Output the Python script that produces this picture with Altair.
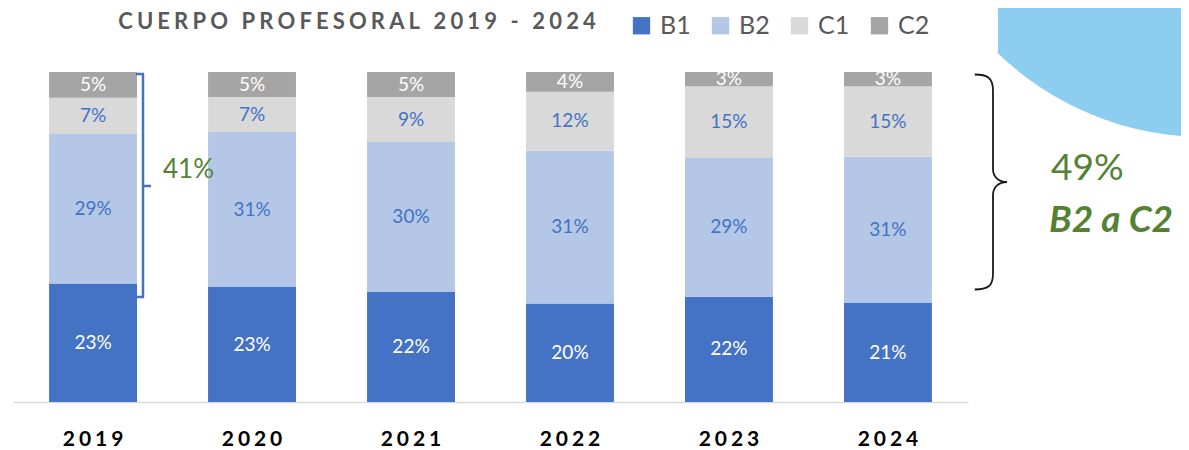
import altair as alt
import pandas as pd

years = ["2019", "2020", "2021", "2022", "2023", "2024"]
levels = ["B1", "B2", "C1", "C2"]
b1 = [23, 23, 22, 20, 22, 21]
b2 = [29, 31, 30, 31, 29, 31]
c1 = [7, 7, 9, 12, 15, 15]
c2 = [5, 5, 5, 4, 3, 3]
colors = ["#4472C4", "#B4C7E7", "#D9D9D9", "#A5A5A5"]
title_text = "CUERPO PROFESORAL 2019 - 2024"
bracket_label = "41%"
brace_value = "49%"
brace_label = "B2 a C2"

rows = []
for i, yr in enumerate(years):
    for j, (lv, series) in enumerate(zip(levels, [b1, b2, c1, c2])):
        rows.append({"year": yr, "level": lv, "order": j, "value": series[i]})
df = pd.DataFrame(rows)
one = pd.DataFrame({"k": [0]})

W, H = 955, 330
FONT = "Lato"
SP = "\u2009\u200A"
spaced_title = SP.join(list(title_text))

base = alt.Chart(df).transform_stack(
    stack="value", groupby=["year"], as_=["v0", "v1"], offset="normalize",
    sort=[alt.SortField("order", order="ascending")]
).transform_calculate(
    mid="(datum.v0 + datum.v1) / 2",
    lbl="datum.value + '%'",
    tcolor="(datum.level == 'B1' || datum.level == 'C2') ? '#FFFFFF' : '#4472C4'",
)

xenc = alt.X(
    "year:N", sort=years,
    scale=alt.Scale(paddingInner=0.447, paddingOuter=0.227),
    axis=alt.Axis(
        title=None, labelAngle=0, ticks=False, domainColor="#D9D9D9", domainWidth=1.5,
        labelFont=FONT, labelFontSize=21, labelFontWeight="bold", labelColor="#000000",
        labelPadding=26, labelExpr="join(split(datum.label, ''), '\u2009\u200A')",
    ),
)
yscale = alt.Scale(domain=[0, 1])

bars = base.mark_bar().encode(
    x=xenc,
    y=alt.Y("v0:Q", scale=yscale, axis=None),
    y2="v1:Q",
    color=alt.Color(
        "level:N", scale=alt.Scale(domain=levels, range=colors),
        legend=alt.Legend(
            title=None, orient="none", direction="horizontal", legendX=616, legendY=-59,
            symbolType="square", symbolSize=300, symbolStrokeWidth=0,
            labelFont=FONT, labelFontSize=25, labelColor="#595959",
            columnPadding=17, padding=0, labelOffset=6,
        ),
    ),
)

labels = base.mark_text(font=FONT, fontSize=19, baseline="middle").encode(
    x=alt.X("year:N", sort=years),
    y=alt.Y("mid:Q", scale=yscale),
    text="lbl:N",
    fill=alt.Fill("tcolor:N", scale=None, legend=None),
)

ann = alt.Chart(one)

circle = ann.mark_point(shape="circle", filled=True, size=596 * 596, color="#8DCDF0", opacity=1).encode(
    x=alt.value(1192), y=alt.value(-233)
)
clip = ann.mark_rect(color="#FFFFFF").encode(
    x=alt.value(927), x2=alt.value(985), y=alt.value(-72), y2=alt.value(-20)
)

title = ann.mark_text(text=spaced_title, font=FONT, fontSize=22, fontWeight="bold",
                      color="#595959", align="center", baseline="middle").encode(
    x=alt.value(344), y=alt.value(-50)
)

bcol = "#4472C4"
br_v = ann.mark_rule(color=bcol, strokeWidth=2.5).encode(
    x=alt.value(130), y=alt.value(2), y2=alt.value(225))
br_t = ann.mark_rule(color=bcol, strokeWidth=2.5).encode(
    x=alt.value(123), x2=alt.value(131), y=alt.value(2))
br_b = ann.mark_rule(color=bcol, strokeWidth=2.5).encode(
    x=alt.value(123), x2=alt.value(131), y=alt.value(225))
br_m = ann.mark_rule(color=bcol, strokeWidth=2.5).encode(
    x=alt.value(130), x2=alt.value(138), y=alt.value(114))

green = "#548235"
t41 = ann.mark_text(text=bracket_label, font=FONT, fontSize=26, color=green,
                    align="left", baseline="middle").encode(x=alt.value(150), y=alt.value(98))

brace_path = ("M -0.17 -1 C -0.05 -1 0 -0.97 0 -0.85 L 0 -0.12 C 0 -0.05 0.05 0 0.13 0 "
              "C 0.05 0 0 0.05 0 0.12 L 0 0.85 C 0 0.97 -0.05 1 -0.17 1")
brace = ann.mark_point(shape=brace_path, filled=False, size=215 * 215, stroke="#1A1A1A",
                       strokeWidth=1.8, opacity=1).encode(x=alt.value(980), y=alt.value(110))

t49 = ann.mark_text(text=brace_value, font=FONT, fontSize=37, color=green,
                    align="left", baseline="middle").encode(x=alt.value(1038), y=alt.value(97))
tb2 = ann.mark_text(text=brace_label, font=FONT, fontSize=37, fontWeight="bold", fontStyle="italic",
                    color=green, align="left", baseline="middle").encode(x=alt.value(1036), y=alt.value(149))

chart = alt.layer(
    circle, clip, bars, labels, title, br_v, br_t, br_b, br_m, t41, brace, t49, tb2
).properties(
    width=W, height=H, autosize="none",
    padding={"left": 5, "top": 64, "right": 213, "bottom": 52},
).configure_view(stroke=None)

chart.save("out.html", embed_options={"renderer": "svg", "actions": False})
